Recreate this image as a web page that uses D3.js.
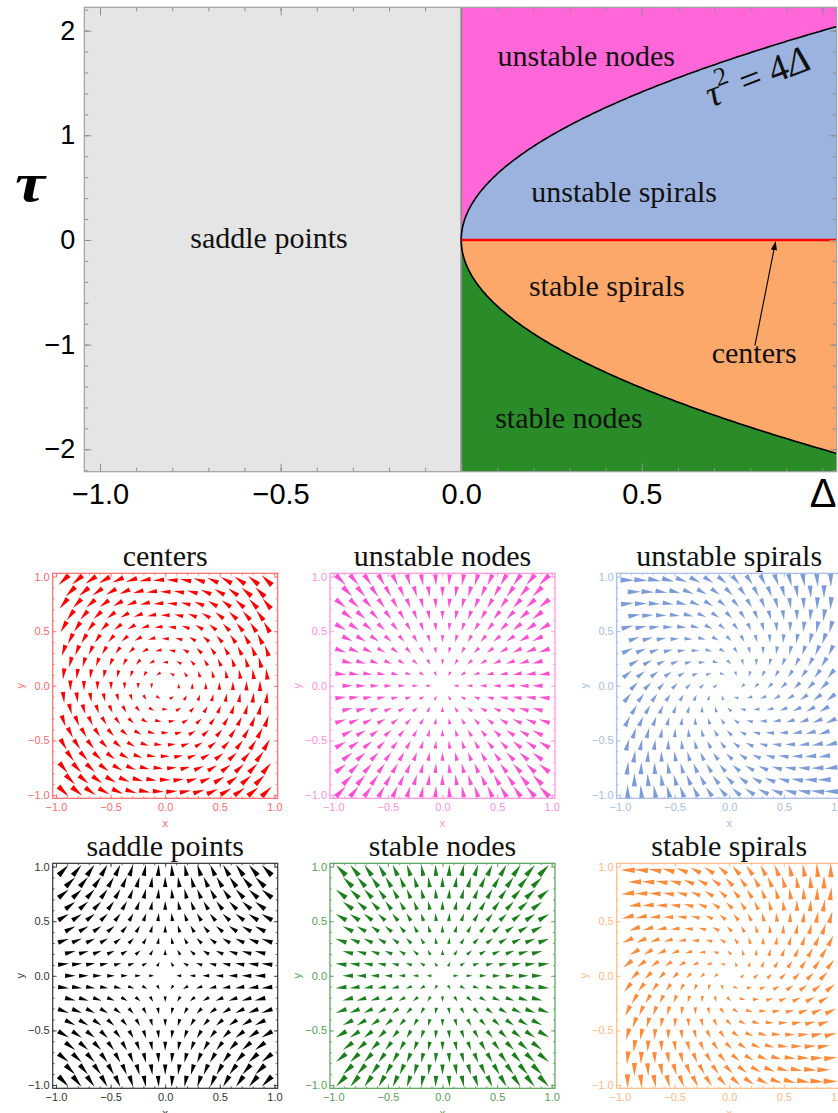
<!DOCTYPE html>
<html><head><meta charset="utf-8">
<script src="https://cdn.jsdelivr.net/npm/d3@7"></script>
<style>body{margin:0;background:#fff;} svg{display:block;}</style>
</head><body>
<script>
// ---------------- DATA ----------------
// top diagram: axis ranges and ticks
const deltaRange = [-1.0435, 1.0395];
const tauRange = [-2.214, 2.223];
const deltaMajorTicks = [-1.0, -0.5, 0.0, 0.5];
const deltaMinorTicks = [-1.0,-0.9,-0.8,-0.7,-0.6,-0.5,-0.4,-0.3,-0.2,-0.1,0.0,0.1,0.2,0.3,0.4,0.5,0.6,0.7,0.8,0.9,1.0];
const tauMajorTicks = [-2, -1, 0, 1, 2];
const tauMinorTicks = [-2.2,-2.0,-1.8,-1.6,-1.4,-1.2,-1.0,-0.8,-0.6,-0.4,-0.2,0,0.2,0.4,0.6,0.8,1.0,1.2,1.4,1.6,1.8,2.0,2.2];
const regionNames = ["saddle points","unstable nodes","unstable spirals","stable spirals","stable nodes"];
const regionColors = ["#e5e5e5","#ff66d8","#9bb3de","#fca86b","#298c29"];
// label anchor positions in data coordinates [Δ, τ]
const regionLabelPos = [[-0.532, -0.08], [0.346, 1.66], [0.451, 0.36], [0.403, -0.54], [0.298, -1.80]];
const centersLabel = "centers";
const centersLabelPos = [0.811, -1.18];
const centersArrowFrom = [0.813, -1.01];
const centersArrowTo = [0.87, -0.02];
const curveLabelPos = [0.832, 1.45];

// phase portraits
const panelTitles = ["centers","unstable nodes","unstable spirals","saddle points","stable nodes","stable spirals"];
const panelMatrices = [
  [[0, 1], [-1, 0]],
  [[1, 0], [0, 1]],
  [[1, -1], [1, 1]],
  [[1, 0], [0, -1]],
  [[-1, 0], [0, -1]],
  [[-1, 1], [-1, -1]]
];
const panelArrowColors = ["#ff0000","#ff4fd2","#7c9bdb","#000000","#1b801b","#ff8a38"];
const panelAxisColors = ["#ff6a6a","#ff8fe0","#a6bce6","#333333","#55a055","#ffb985"];
const panelTicks = [-1.0, -0.5, 0.0, 0.5, 1.0];
const panelMinorTicks = [-1.0,-0.9,-0.8,-0.7,-0.6,-0.5,-0.4,-0.3,-0.2,-0.1,0,0.1,0.2,0.3,0.4,0.5,0.6,0.7,0.8,0.9,1.0];
// hexagonal sample grid of the vector plots
const gridRowsY = [0.9675,0.86,0.7525,0.645,0.5375,0.43,0.3225,0.215,0.1075,0,-0.1075,-0.215,-0.3225,-0.43,-0.5375,-0.645,-0.7525,-0.86,-0.9675];
const gridXEven = [-0.93,-0.806,-0.682,-0.558,-0.434,-0.31,-0.186,-0.062,0.062,0.186,0.31,0.434,0.558,0.682,0.806,0.93];
const gridXOdd = [-0.868,-0.744,-0.62,-0.496,-0.372,-0.248,-0.124,0,0.124,0.248,0.372,0.496,0.62,0.744,0.868];

// ---------------- LAYOUT ----------------
const W = 838, H = 1113;
const svg = d3.select("body").append("svg").attr("width", W).attr("height", H);
const serif = "'Liberation Serif','Times New Roman',serif";
const sans = "'Liberation Sans',Arial,sans-serif";

const fr = {l: 84.3, r: 836.7, t: 7.3, b: 471.7};
const x = d3.scaleLinear().domain(deltaRange).range([fr.l, fr.r]);
const y = d3.scaleLinear().domain(tauRange).range([fr.b, fr.t]);

svg.append("clipPath").attr("id","topclip").append("rect")
  .attr("x", fr.l).attr("y", fr.t).attr("width", fr.r-fr.l).attr("height", fr.b-fr.t);
const g = svg.append("g").attr("clip-path","url(#topclip)");

// boundary curve τ² = 4Δ sampled along τ
const tauEdge = 2*Math.sqrt(deltaRange[1]);
const tauSamples = d3.range(0, tauEdge, 0.01).concat([tauEdge]);
const upper = tauSamples.map(t => [t*t/4, t]);
const lower = tauSamples.map(t => [t*t/4, -t]);
const line = d3.line().x(d => x(d[0])).y(d => y(d[1]));

const polys = [
  [[deltaRange[0], tauRange[0]],[0, tauRange[0]],[0, tauRange[1]],[deltaRange[0], tauRange[1]]],
  upper.concat([[deltaRange[1], tauRange[1]],[0, tauRange[1]]]),
  upper.concat([[deltaRange[1], 0]]),
  lower.concat([[deltaRange[1], 0]]),
  lower.concat([[deltaRange[1], tauRange[0]],[0, tauRange[0]]])
];
g.selectAll("path.region").data(polys).join("path").attr("class","region")
  .attr("d", d => line(d) + "Z")
  .attr("fill", (d,i) => regionColors[i])
  .attr("stroke", (d,i) => regionColors[i]).attr("stroke-width", 0.6);

// vertical line at Δ=0
g.append("line").attr("x1", x(0)).attr("x2", x(0)).attr("y1", fr.t).attr("y2", fr.b)
  .attr("stroke", "#8a8a8a").attr("stroke-width", 1.6);
// parabola
g.append("path").attr("d", line(upper.slice().reverse().concat(lower.slice(1))))
  .attr("fill","none").attr("stroke","#000").attr("stroke-width",1.6);
// centers line
g.append("line").attr("x1", x(0)).attr("x2", x(deltaRange[1])).attr("y1", y(0)).attr("y2", y(0))
  .attr("stroke", "#ff0000").attr("stroke-width", 2.6);

// axes ticks (inward, on four sides)
const tickCol = "#8f8f8f";
function styleAxis(sel){ sel.select(".domain").remove(); sel.selectAll(".tick line").attr("stroke", tickCol); }
svg.append("g").attr("transform",`translate(0,${fr.b})`)
  .call(d3.axisBottom(x).tickValues(deltaMinorTicks).tickSize(-4).tickFormat("")).call(styleAxis);
svg.append("g").attr("transform",`translate(0,${fr.b})`)
  .call(d3.axisBottom(x).tickValues(deltaMajorTicks).tickSize(-8).tickPadding(12).tickFormat(d3.format(".1f")))
  .call(styleAxis)
  .call(s => s.selectAll("text").attr("font-family", sans).attr("font-size", 29).attr("fill","#000").attr("dy","0.71em"));
svg.append("g").attr("transform",`translate(0,${fr.t})`)
  .call(d3.axisTop(x).tickValues(deltaMinorTicks).tickSize(-4).tickFormat("")).call(styleAxis);
svg.append("g").attr("transform",`translate(0,${fr.t})`)
  .call(d3.axisTop(x).tickValues(deltaMajorTicks.concat([1.0])).tickSize(-8).tickFormat("")).call(styleAxis);
svg.append("g").attr("transform",`translate(${fr.l},0)`)
  .call(d3.axisLeft(y).tickValues(tauMinorTicks).tickSize(-4).tickFormat("")).call(styleAxis);
svg.append("g").attr("transform",`translate(${fr.l},0)`)
  .call(d3.axisLeft(y).tickValues(tauMajorTicks).tickSize(-7).tickPadding(9).tickFormat(d3.format("d")))
  .call(styleAxis)
  .call(s => s.selectAll("text").attr("font-family", sans).attr("font-size", 27).attr("fill","#000"));
svg.append("g").attr("transform",`translate(${fr.r},0)`)
  .call(d3.axisRight(y).tickValues(tauMinorTicks).tickSize(-4).tickFormat("")).call(styleAxis);
svg.append("g").attr("transform",`translate(${fr.r},0)`)
  .call(d3.axisRight(y).tickValues(tauMajorTicks).tickSize(-7).tickFormat("")).call(styleAxis);
// frame
svg.append("rect").attr("x", fr.l).attr("y", fr.t).attr("width", fr.r-fr.l).attr("height", fr.b-fr.t)
  .attr("fill","none").attr("stroke","#a0a0a0").attr("stroke-width",1.2);

// axis labels
svg.append("text").attr("transform","translate(30,201) scale(1.25,1)").attr("text-anchor","middle")
  .attr("font-family", serif).attr("font-style","italic").attr("font-weight","bold").attr("font-size", 54)
  .text("τ");
svg.append("text").attr("x", 823).attr("y", 507).attr("text-anchor","middle")
  .attr("font-family", sans).attr("font-size", 40).text("Δ");

// region labels
svg.selectAll("text.rl").data(regionNames).join("text").attr("class","rl")
  .attr("x", (d,i) => x(regionLabelPos[i][0])).attr("y", (d,i) => y(regionLabelPos[i][1]))
  .attr("text-anchor","middle").attr("font-family", serif).attr("font-size", 30).attr("fill","#111")
  .text(d => d);
svg.append("text").attr("x", x(centersLabelPos[0])).attr("y", y(centersLabelPos[1]))
  .attr("text-anchor","middle").attr("font-family", serif).attr("font-size", 30).attr("fill","#111")
  .text(centersLabel);
// arrow to centers line
const defs = svg.append("defs");
defs.append("marker").attr("id","ah").attr("viewBox","0 0 10 10").attr("refX",9).attr("refY",5)
  .attr("markerWidth",9).attr("markerHeight",9).attr("orient","auto").attr("markerUnits","userSpaceOnUse")
  .append("path").attr("d","M0,1.5 L10,5 L0,8.5 Z").attr("fill","#000");
svg.append("line").attr("x1", x(centersArrowFrom[0])).attr("y1", y(centersArrowFrom[1]))
  .attr("x2", x(centersArrowTo[0])).attr("y2", y(centersArrowTo[1]))
  .attr("stroke","#000").attr("stroke-width",1.1).attr("marker-end","url(#ah)");
// curve label τ² = 4Δ
const cl = svg.append("text").attr("transform", `translate(${x(curveLabelPos[0])},${y(curveLabelPos[1])}) rotate(-21)`)
  .attr("text-anchor","middle").attr("font-family", serif).attr("font-size", 38).attr("fill","#111");
cl.append("tspan").attr("font-style","italic").text("τ");
cl.append("tspan").attr("font-size", 26).attr("dy", -17).text("2");
cl.append("tspan").attr("dy", 17).text(" = 4");
cl.append("tspan").attr("font-style","italic").text("Δ");

// ---------------- PHASE PORTRAITS ----------------
const panelSize = 225;
const panelLeft = [52.7, 330, 616.7];
const panelTop = [573.3, 863.3];
const pd = [-1.03, 1.03];

const gridPts = [];
gridRowsY.forEach((yy, j) => (j % 2 === 0 ? gridXEven : gridXOdd).forEach(xx => gridPts.push([xx, yy])));

panelTitles.forEach((title, k) => {
  const L = panelLeft[k % 3], T = panelTop[Math.floor(k / 3)];
  const sx = d3.scaleLinear().domain(pd).range([L, L + panelSize]);
  const sy = d3.scaleLinear().domain(pd).range([T + panelSize, T]);
  const A = panelMatrices[k];
  const ac = panelAxisColors[k];
  const pg = svg.append("g");
  const field = gridPts.map(([px, py]) => {
    const vx = A[0][0]*px + A[0][1]*py, vy = A[1][0]*px + A[1][1]*py;
    return {px, py, vx, vy, m: Math.hypot(vx, vy)};
  });
  const mmax = d3.max(field, d => d.m);
  const unit = sx(1) - sx(0);
  pg.selectAll("path.arr").data(field.filter(d => d.m > 1e-9)).join("path").attr("class","arr")
    .attr("d", d => {
      const len = (0.035 + 0.095 * d.m / mmax) * unit;
      const wid = 1.6 + 0.27 * len;
      const ux = d.vx / d.m, uy = -d.vy / d.m;
      const cx = sx(d.px), cy = sy(d.py);
      const hx = cx + ux*len/2, hy = cy + uy*len/2, tx = cx - ux*len/2, ty = cy - uy*len/2;
      const nx = -uy*wid/2, ny = ux*wid/2;
      return `M${tx},${ty}L${hx+nx},${hy+ny}L${hx-nx},${hy-ny}Z`;
    })
    .attr("fill", panelArrowColors[k]);

  // ticks
  function sa(sel){ sel.select(".domain").remove(); sel.selectAll(".tick line").attr("stroke", ac).attr("stroke-width",0.8); }
  const fmt = d3.format(".1f");
  pg.append("g").attr("transform",`translate(0,${T+panelSize})`).call(d3.axisBottom(sx).tickValues(panelMinorTicks).tickSize(-2).tickFormat("")).call(sa);
  pg.append("g").attr("transform",`translate(0,${T+panelSize})`).call(d3.axisBottom(sx).tickValues(panelTicks).tickSize(-4).tickPadding(5).tickFormat(fmt)).call(sa)
    .call(s => s.selectAll("text").attr("font-family", sans).attr("font-size", 11).attr("fill", ac).attr("dy","0.71em"));
  pg.append("g").attr("transform",`translate(0,${T})`).call(d3.axisTop(sx).tickValues(panelMinorTicks).tickSize(-2).tickFormat("")).call(sa);
  pg.append("g").attr("transform",`translate(0,${T})`).call(d3.axisTop(sx).tickValues(panelTicks).tickSize(-4).tickFormat("")).call(sa);
  pg.append("g").attr("transform",`translate(${L},0)`).call(d3.axisLeft(sy).tickValues(panelMinorTicks).tickSize(-2).tickFormat("")).call(sa);
  pg.append("g").attr("transform",`translate(${L},0)`).call(d3.axisLeft(sy).tickValues(panelTicks).tickSize(-4).tickPadding(3).tickFormat(fmt)).call(sa)
    .call(s => s.selectAll("text").attr("font-family", sans).attr("font-size", 11).attr("fill", ac));
  pg.append("g").attr("transform",`translate(${L+panelSize},0)`).call(d3.axisRight(sy).tickValues(panelMinorTicks).tickSize(-2).tickFormat("")).call(sa);
  pg.append("g").attr("transform",`translate(${L+panelSize},0)`).call(d3.axisRight(sy).tickValues(panelTicks).tickSize(-4).tickFormat("")).call(sa);
  pg.append("rect").attr("x", L).attr("y", T).attr("width", panelSize).attr("height", panelSize)
    .attr("fill","none").attr("stroke", ac).attr("stroke-width", 1.2);
  pg.append("text").attr("x", sx(0)).attr("y", T + panelSize + 29).attr("text-anchor","middle")
    .attr("font-family", sans).attr("font-size", 11).attr("fill", ac).text("x");
  pg.append("text").attr("transform", `translate(${L-33},${sy(0)}) rotate(-90)`).attr("text-anchor","middle")
    .attr("dy","0.35em").attr("font-family", sans).attr("font-size", 11).attr("fill", ac).text("y");
  pg.append("text").attr("x", sx(0)).attr("y", T - 7).attr("text-anchor","middle")
    .attr("font-family", serif).attr("font-size", 30).attr("fill","#111").text(title);
});
</script>
</body></html>
